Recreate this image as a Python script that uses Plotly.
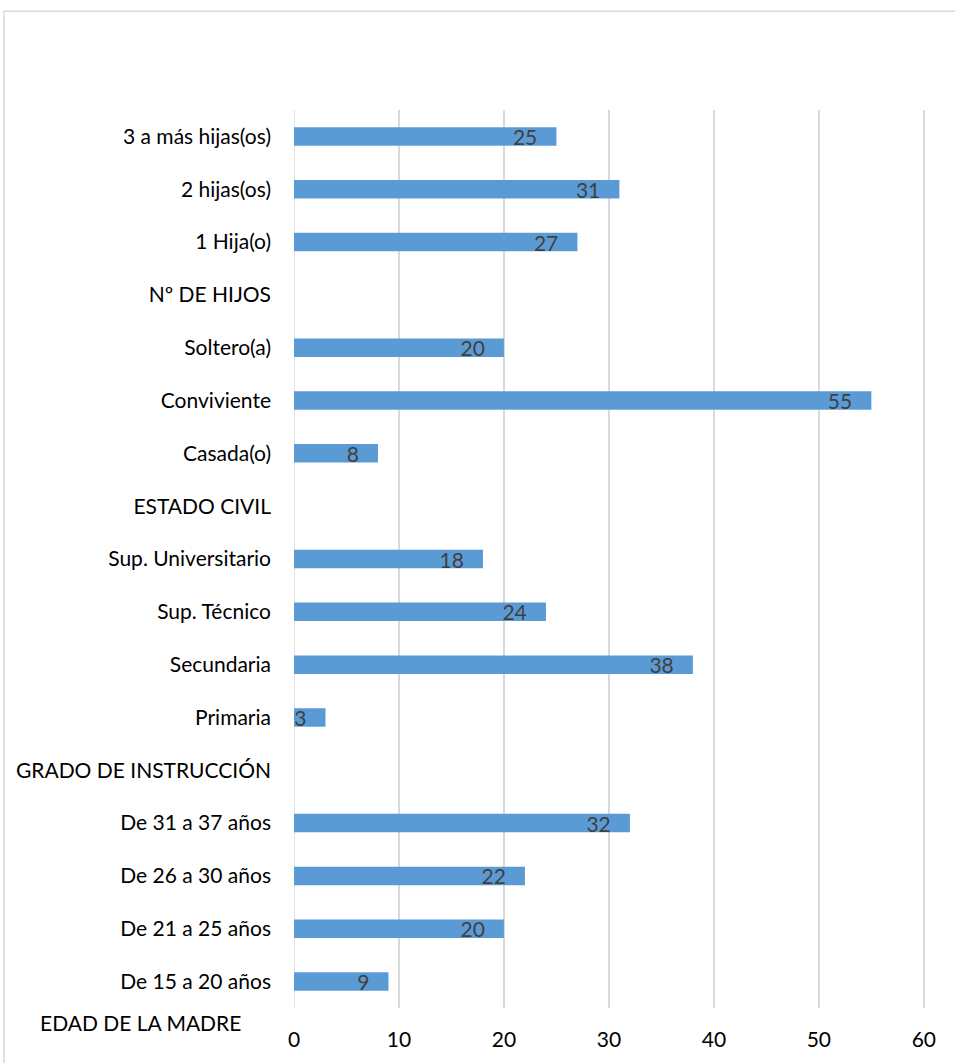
import plotly.graph_objects as go

categories = [
    "De 15 a 20 años", "De 21 a 25 años", "De 26 a 30 años", "De 31 a 37 años",
    "GRADO DE INSTRUCCIÓN", "Primaria", "Secundaria", "Sup. Técnico", "Sup. Universitario",
    "ESTADO CIVIL", "Casada(o)", "Conviviente", "Soltero(a)",
    "Nº DE HIJOS", "1 Hija(o)", "2 hijas(os)", "3 a más hijas(os)",
]
values = [9, 20, 22, 32, None, 3, 38, 24, 18, None, 8, 55, 20, None, 27, 31, 25]
bottom_label = "EDAD DE LA MADRE"
x_ticks = [0, 10, 20, 30, 40, 50, 60]

FONT = "Lato"
FS = 21
W, H = 955, 1063
L, R, T, B = 294, 28, 110, 53
pw, ph = W - L - R, H - T - B

def px_x(px):
    return (px - L) / pw

def px_y(py):
    return (H - B - py) / ph

texts = [("" if v is None else f"{v}\u00a0\u00a0\u00a0") for v in values]

fig = go.Figure(go.Bar(
    y=categories, x=values, orientation="h",
    marker=dict(color="#5B9BD5", line=dict(width=0)),
    width=0.35,
    text=texts, textposition="inside", insidetextanchor="end",
    constraintext="none",
    textfont=dict(family=FONT, size=21, color="#404040"),
    hoverinfo="skip",
))

fig.update_layout(
    width=W, height=H,
    margin=dict(l=L, r=R, t=T, b=B),
    paper_bgcolor="white", plot_bgcolor="white",
    showlegend=False,
    font=dict(family=FONT, size=FS, color="#000000"),
    xaxis=dict(range=[0, 60.3], tickvals=x_ticks, showgrid=True, gridcolor="#D9D9D9",
               gridwidth=1.5, zeroline=False, showline=False, ticks="",
               ticklabelstandoff=17, tickfont=dict(family=FONT, size=FS, color="#000000")),
    yaxis=dict(categoryorder="array", categoryarray=categories, range=[-0.5, 16.5],
               showgrid=False, zeroline=False, showline=False, ticks="",
               ticklabelstandoff=22, tickfont=dict(family=FONT, size=FS, color="#000000")),
    shapes=[dict(type="rect", xref="paper", yref="paper",
                 x0=px_x(4), x1=px_x(990), y0=px_y(1100), y1=px_y(11),
                 line=dict(color="#D9D9D9", width=1.5), fillcolor="rgba(0,0,0,0)", layer="below"),
            dict(type="line", xref="x", yref="paper", x0=0, x1=0, y0=0, y1=1,
                 line=dict(color="#D9D9D9", width=1.5), layer="below")],
    annotations=[dict(text=bottom_label, xref="paper", yref="paper",
                      x=px_x(140), y=px_y(1025), xanchor="center", yanchor="middle",
                      showarrow=False, font=dict(family=FONT, size=FS, color="#000000"))],
)

fig.write_html("out.html")
